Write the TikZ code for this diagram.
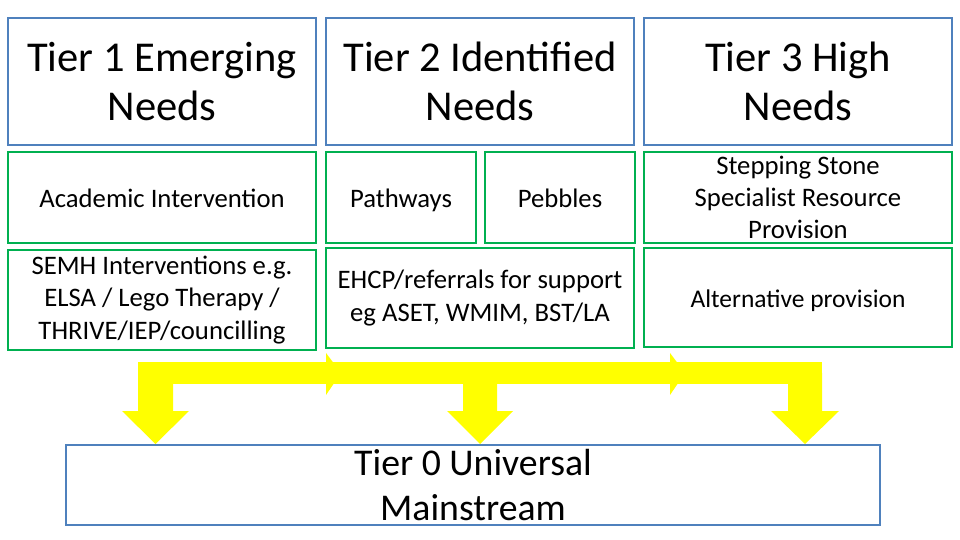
\documentclass[tikz,border=0pt]{standalone}
\usepackage{fontspec}
\setmainfont{Carlito}
\usepackage{xcolor}
\usepackage{tikz}

\definecolor{tierblue}{RGB}{79,129,189}
\definecolor{provgreen}{RGB}{0,176,80}
\definecolor{flowyellow}{RGB}{255,255,0}

\begin{document}
\begin{tikzpicture}[x=0.02cm,y=-0.02cm,
  tierbox/.style={draw=tierblue,line width=1.1pt,inner sep=0pt,align=center,
    font=\fontsize{24.2}{27.8}\selectfont,minimum width=6.16cm,minimum height=2.54cm},
  provbox/.style={draw=provgreen,line width=1.4pt,inner sep=0pt,
    font=\fontsize{15.2}{18.4}\selectfont,minimum width=6.16cm,minimum height=1.82cm},
  manyline/.style={align=center},
  oneline/.style={text height=1.1em,text depth=0pt},
  flowarrow/.style={fill=flowyellow,draw=none}]
\useasboundingbox (0,0) rectangle (960,540);

% yellow flow arrows
\fill[flowarrow] (138,362) rectangle (822,384);
\fill[flowarrow] (326,353) -- (341,373) -- (326,395) -- cycle;
\fill[flowarrow] (670,353) -- (685,373) -- (670,395) -- cycle;
\fill[flowarrow] (138,373) -- (173,373) -- (173,411) -- (189,411) -- (155.5,444)
  -- (122,411) -- (138,411) -- cycle;
\fill[flowarrow] (463,373) -- (497,373) -- (497,411) -- (513,411) -- (480,444)
  -- (447,411) -- (463,411) -- cycle;
\fill[flowarrow] (788,373) -- (822,373) -- (822,411) -- (839,411) -- (805,444)
  -- (771,411) -- (788,411) -- cycle;

% tiers
\node[tierbox] (tier1) at (162,81.5) {Tier 1 Emerging\\Needs};
\node[tierbox] (tier2) at (480,81.5) {Tier 2 Identified\\Needs};
\node[tierbox] (tier3) at (798,81.5) {Tier 3 High\\Needs};

% provision
\node[provbox,oneline] (academic) at (162,197.5) {Academic Intervention};
\node[provbox,oneline,minimum width=3cm] (pathways) at (401,197.5) {Pathways};
\node[provbox,oneline,minimum width=3cm] (pebbles) at (560,197.5) {Pebbles};
\node[provbox,manyline] (stepping) at (798,197.5) {Stepping Stone\\Specialist Resource\\Provision};
\node[provbox,manyline,minimum height=2cm] (semh) at (162,300)
  {SEMH Interventions e.g.\\ELSA / Lego Therapy /\\THRIVE/IEP/councilling};
\node[provbox,manyline,minimum height=2cm] (ehcp) at (480,298)
  {EHCP/referrals for support\\eg ASET, WMIM, BST/LA};
\node[provbox,oneline,minimum height=1.98cm,font=\fontsize{14.5}{18}\selectfont]
  (altprov) at (798,297.5) {Alternative provision};

\node[tierbox,minimum width=16.28cm,minimum height=1.6cm,font=\fontsize{21.5}{25.5}\selectfont]
  (tier0) at (473,485) {Tier 0 Universal\\Mainstream};
\end{tikzpicture}
\end{document}
